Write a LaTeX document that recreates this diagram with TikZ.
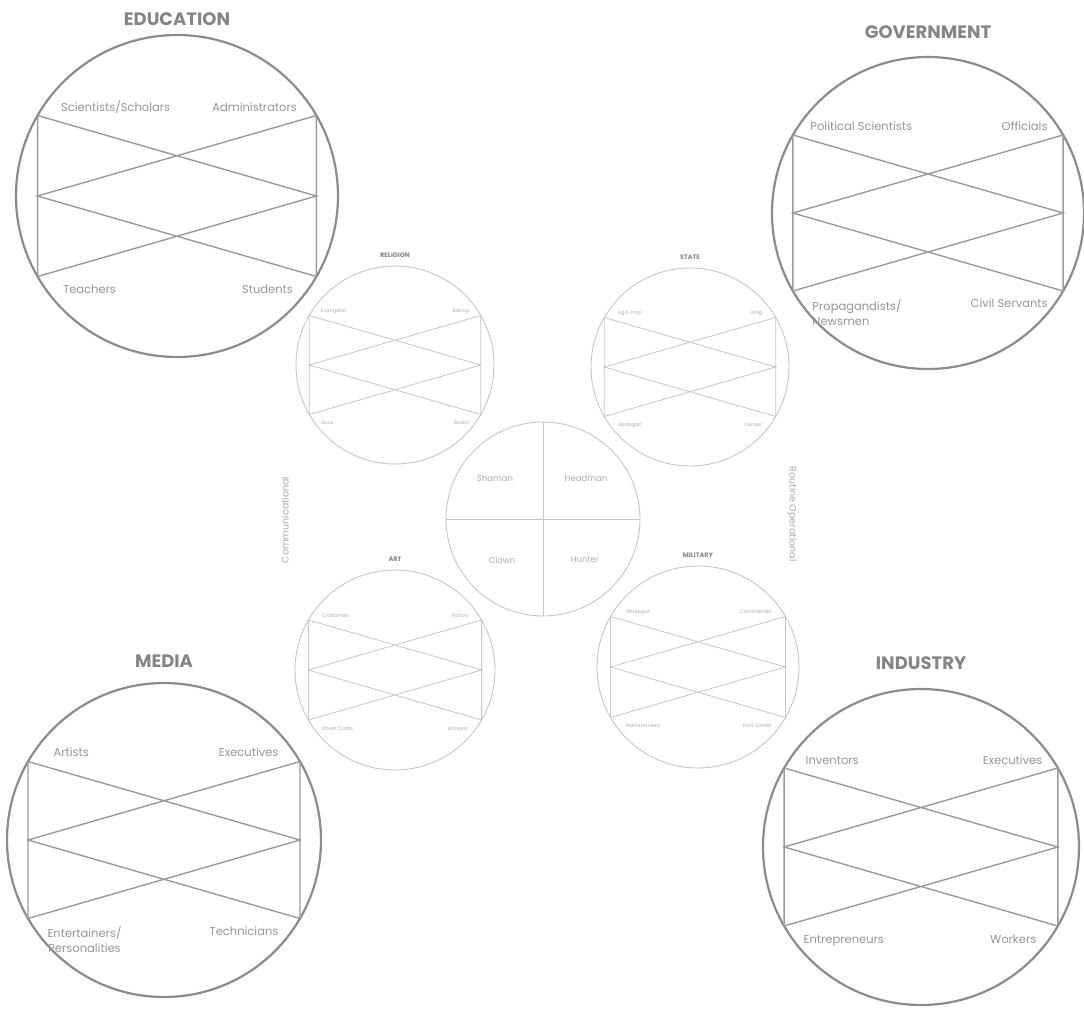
\documentclass[tikz,border=0pt]{standalone}
\usepackage{fontspec}
\setmainfont{Poppins}
\usetikzlibrary{positioning}
\definecolor{ringgray}{HTML}{8C8C8C}
\definecolor{crossgray}{HTML}{9A9A9A}
\definecolor{thingray}{HTML}{C6C6C6}
\definecolor{titlegray}{HTML}{858585}
\definecolor{labelgray}{HTML}{959595}
\definecolor{faintgray}{HTML}{ABABAB}
\tikzset{
      bigring/.style={
        circle,
        draw=ringgray,
        line width=2.2pt,
        inner sep=0pt,
        outer sep=0pt
      },
      smallring/.style={
        circle,
        draw=thingray,
        line width=0.9pt,
        inner sep=0pt,
        outer sep=0pt
      },
      bigcross/.style={draw=crossgray, line width=1.4pt},
      smallcross/.style={draw=thingray, line width=0.8pt},
      bigtitle/.style={font=\fontsize{18}{20}\selectfont\bfseries, text=titlegray},
      biglabel/.style={font=\fontsize{11.5}{15}\selectfont, text=labelgray, align=center},
      smalltitle/.style={font=\fontsize{6.5}{7}\selectfont\bfseries, text=titlegray},
      smalllabel/.style={font=\fontsize{5}{5.5}\selectfont, text=faintgray},
      corelabel/.style={font=\fontsize{8.5}{9}\selectfont, text=faintgray},
      sidelabel/.style={font=\fontsize{9.5}{10}\selectfont, text=faintgray}
    }
% the X pattern inside a ring, hung on the ring's anchors
\newcommand{\crosslines}[2]{%
  \draw[#2] (#1.150) -- (#1.210) (#1.30) -- (#1.330)
    (#1.150) -- (#1.30 |- #1.center) -- (#1.210)
    (#1.30) -- (#1.150 |- #1.center) -- (#1.330);
}
\begin{document}
\begin{tikzpicture}[x=1pt,y=-1pt]
    \useasboundingbox (0,0) rectangle (1084,1009);
    % four large rings
    \node[bigring, minimum size=322pt] (edu) at (177,196) {};
    \node[bigring, minimum size=312pt] (gov) at (928,213) {};
    \node[bigring, minimum size=314pt] (media) at (164,840) {};
    \node[bigring, minimum size=316pt] (ind) at (921,847) {};
    \crosslines{edu}{bigcross}
    \crosslines{gov}{bigcross}
    \crosslines{media}{bigcross}
    \crosslines{ind}{bigcross}
    \node[bigtitle, above=6pt of edu] (edu-title) {EDUCATION};
    \node[bigtitle, above=15pt of gov] (gov-title) {GOVERNMENT};
    \node[bigtitle, above=12pt of media] (media-title) {MEDIA};
    \node[bigtitle, above=16pt of ind] (ind-title) {INDUSTRY};
    \node[biglabel, anchor=base west] (edu-tl) at ([shift={(20,-4)}]edu.150) {Scientists/Scholars};
    \node[biglabel, anchor=base east] (edu-tr) at ([shift={(-16,-4)}]edu.30) {Administrators};
    \node[biglabel, anchor=base west] (edu-bl) at ([shift={(22,17)}]edu.210) {Teachers};
    \node[biglabel, anchor=base east] (edu-br) at ([shift={(-20,17)}]edu.330) {Students};
    \node[biglabel, anchor=base west] (gov-tl) at ([shift={(14,-5)}]gov.150) {Political Scientists};
    \node[biglabel, anchor=base east] (gov-tr) at ([shift={(-12,-5)}]gov.30) {Officials};
    \node[biglabel, align=left, anchor=north west] (gov-bl) at ([shift={(16,5)}]gov.210) {Propagandists/\\Newsmen};
    \node[biglabel, anchor=base east] (gov-br) at ([shift={(-12,17)}]gov.330) {Civil Servants};
    \node[biglabel, anchor=base west] (media-tl) at ([shift={(22,-5)}]media.150) {Artists};
    \node[biglabel, anchor=base east] (media-tr) at ([shift={(-18,-5)}]media.30) {Executives};
    \node[biglabel, anchor=north west] (media-bl) at ([shift={(16,5)}]media.210) {Entertainers/\\Personalities};
    \node[biglabel, anchor=base east] (media-br) at ([shift={(-18,17)}]media.330) {Technicians};
    \node[biglabel, anchor=base west] (ind-tl) at ([shift={(18,-4)}]ind.150) {Inventors};
    \node[biglabel, anchor=base east] (ind-tr) at ([shift={(-12,-4)}]ind.30) {Executives};
    \node[biglabel, anchor=base west] (ind-bl) at ([shift={(16,17)}]ind.210) {Entrepreneurs};
    \node[biglabel, anchor=base east] (ind-br) at ([shift={(-18,17)}]ind.330) {Workers};
    % four small rings
    \node[smallring, minimum size=198pt] (rel) at (395,365) {};
    \node[smallring, minimum size=198pt] (state) at (690,367) {};
    \node[smallring, minimum size=200pt] (art) at (395,670) {};
    \node[smallring, minimum size=202pt] (mil) at (698,667) {};
    \crosslines{rel}{smallcross}
    \crosslines{state}{smallcross}
    \crosslines{art}{smallcross}
    \crosslines{mil}{smallcross}
    \node[smalltitle, above=5pt of rel] (rel-title) {RELIGION};
    \node[smalltitle, above=5pt of state] (state-title) {STATE};
    \node[smalltitle, above=5pt of art] (art-title) {ART};
    \node[smalltitle, above=5pt of mil] (mil-title) {MILITARY};
    \node[smalllabel, anchor=base west] (rel-tl) at ([shift={(8,-3)}]rel.150) {Evangelist};
    \node[smalllabel, anchor=base east] (rel-tr) at ([shift={(-8,-3)}]rel.30) {Bishop};
    \node[smalllabel, anchor=base west] (rel-bl) at ([shift={(8,10)}]rel.210) {Guru};
    \node[smalllabel, anchor=base east] (rel-br) at ([shift={(-8,10)}]rel.330) {Zealot};
    \node[smalllabel, anchor=base west] (state-tl) at ([shift={(10,-3)}]state.150) {Agit-Prop};
    \node[smalllabel, anchor=base east] (state-tr) at ([shift={(-10,-3)}]state.30) {King};
    \node[smalllabel, anchor=base west] (state-bl) at ([shift={(10,10)}]state.210) {Apologist};
    \node[smalllabel, anchor=base east] (state-br) at ([shift={(-10,10)}]state.330) {Censor};
    \node[smalllabel, anchor=base west] (art-tl) at ([shift={(10,-3)}]art.150) {Craftsman};
    \node[smalllabel, anchor=base east] (art-tr) at ([shift={(-10,-3)}]art.30) {Patron};
    \node[smalllabel, anchor=base west] (art-bl) at ([shift={(10,10)}]art.210) {Street Crafts};
    \node[smalllabel, anchor=base east] (art-br) at ([shift={(-10,10)}]art.330) {Artisans};
    \node[smalllabel, anchor=base west] (mil-tl) at ([shift={(12,-3)}]mil.150) {Strategist};
    \node[smalllabel, anchor=base east] (mil-tr) at ([shift={(-10,-3)}]mil.30) {Commander};
    \node[smalllabel, anchor=base west] (mil-bl) at ([shift={(12,10)}]mil.210) {National Hero};
    \node[smalllabel, anchor=base east] (mil-br) at ([shift={(-10,10)}]mil.330) {Foot Soldier};
    % centre ring
    \node[smallring, minimum size=194pt] (core) at (543,519) {};
    \draw[smallcross] (core.north) -- (core.south) (core.west) -- (core.east);
    \node[corelabel] (shaman) at (495,478) {Shaman};
    \node[corelabel] (headman) at (586,478) {Headman};
    \node[corelabel] (clown) at (502,560) {Clown};
    \node[corelabel] (hunter) at (585,560) {Hunter};
    % side notes
    \node[sidelabel, rotate=90] (comm) at (285,520) {Communicational};
    \node[sidelabel, rotate=-90] (oper) at (792,514) {Routine Operational};
\end{tikzpicture}
\end{document}
